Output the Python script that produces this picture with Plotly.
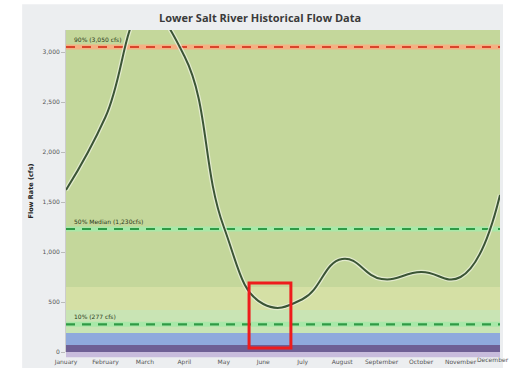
import plotly.graph_objects as go

# Monthly mean flow, Lower Salt River (cfs)
months = ["January", "February", "March", "April", "May", "June",
          "July", "August", "September", "October", "November", "December"]
flow_cfs = [1620, 2350, 3420, 2960, 1250, 480, 530, 930, 730, 800, 750, 1570]

# Exceedance reference levels (cfs)
pct_labels = ["90% (3,050 cfs)", "50% Median (1,230cfs)", "10% (277 cfs)"]
pct_values = [3050, 1230, 277]

# Background flow bands (lower, upper, colour)
band_edges = [0, 70, 190, 420, 650]
band_colors = ["#6e5f94", "#8fa9dc", "#c9e4b4", "#d5e0a5"]

y_ticks = [0, 500, 1000, 1500, 2000, 2500, 3000]
y_max = 3220

x_idx = list(range(len(months)))

fig = go.Figure()

# reference lines with a soft glow underneath
glow = ["#f4b183", "#a8e8a8", "#a8e8a8"]
dash_col = ["#d9452b", "#2f9a45", "#2f9a45"]
for v, g, c in zip(pct_values, glow, dash_col):
    fig.add_trace(go.Scatter(x=[x_idx[0], x_idx[-1]], y=[v, v], mode="lines",
                             line=dict(color=g, width=5), hoverinfo="skip",
                             showlegend=False))
    fig.add_trace(go.Scatter(x=[x_idx[0], x_idx[-1]], y=[v, v], mode="lines",
                             line=dict(color=c, width=2.2, dash="9px,7px"),
                             hoverinfo="skip", showlegend=False))

# flow curve with a faint light halo
fig.add_trace(go.Scatter(x=x_idx, y=flow_cfs, mode="lines",
                         line=dict(color="rgba(235,240,220,0.8)", width=4.5,
                                   shape="spline", smoothing=1.3),
                         hoverinfo="skip", showlegend=False))
fig.add_trace(go.Scatter(x=x_idx, y=flow_cfs, mode="lines",
                         line=dict(color="#3b5535", width=2,
                                   shape="spline", smoothing=1.3),
                         showlegend=False))

shapes = []
# grey chart frame on white page
shapes.append(dict(type="rect", xref="paper", yref="paper", x0=-0.101, x1=1.007,
                   y0=-0.05, y1=1.08, fillcolor="#eceef0", line_width=0,
                   layer="below"))
# plot area fill
shapes.append(dict(type="rect", xref="paper", yref="paper", x0=0, x1=1,
                   y0=0, y1=1, fillcolor="#c4d79b", line_width=0,
                   layer="below"))
for lo, hi, col in zip(band_edges[:-1], band_edges[1:], band_colors):
    shapes.append(dict(type="rect", xref="paper", yref="y", x0=0, x1=1,
                       y0=lo, y1=hi, fillcolor=col, line_width=0, layer="below"))
shapes.append(dict(type="rect", xref="paper", yref="paper", x0=0, x1=1,
                   y0=-0.016, y1=0, fillcolor="#c8bcdc", line_width=0,
                   layer="below"))
# highlight around the June low-flow trough
shapes.append(dict(type="rect", xref="x", yref="y", x0=4.64, x1=5.70,
                   y0=40, y1=690, line=dict(color="#ee1c1c", width=3)))

tick_font = dict(size=6, color="#555555", family="DejaVu Sans")

annotations = []
for lbl, v in zip(pct_labels, pct_values):
    annotations.append(dict(x=0.15, y=v, xref="x", yref="y", text=lbl,
                            showarrow=False, xanchor="left", yanchor="bottom",
                            yshift=2,
                            font=dict(size=6, color="#2a3a1a",
                                      family="DejaVu Sans")))
# last month label sits flush with the right edge of the page
annotations.append(dict(x=1.0, y=0, xref="paper", yref="paper",
                        text=months[-1], showarrow=False, xanchor="right",
                        yanchor="top", xshift=11, yshift=-2, font=tick_font))

fig.update_layout(
    width=512, height=368,
    margin=dict(l=66, r=12, t=30, b=16),
    paper_bgcolor="white",
    plot_bgcolor="#c4d79b",
    title=dict(text="<b>Lower Salt River Historical Flow Data</b>",
               x=0.508, xanchor="center", y=0.951, yanchor="middle",
               font=dict(size=11, color="#3a3a3a", family="Open Sans")),
    shapes=shapes,
    annotations=annotations,
    xaxis=dict(range=[0, 11], tickvals=x_idx[:-1], ticktext=months[:-1],
               tickfont=tick_font,
               showgrid=False, zeroline=False, ticks="", ticklen=0,
               ticklabelstandoff=5, automargin=False),
    yaxis=dict(range=[0, y_max], tickvals=y_ticks, tickformat=",",
               tickfont=tick_font,
               showgrid=False, zeroline=False, ticks="outside", ticklen=4,
               tickcolor="#bbbbbb", showline=True, linecolor="#cccccc",
               automargin=False,
               title=dict(text="<b>Flow Rate (cfs)</b>", standoff=8,
                          font=dict(size=6.5, color="#222222",
                                    family="DejaVu Sans"))),
)

fig.write_html("out.html")
